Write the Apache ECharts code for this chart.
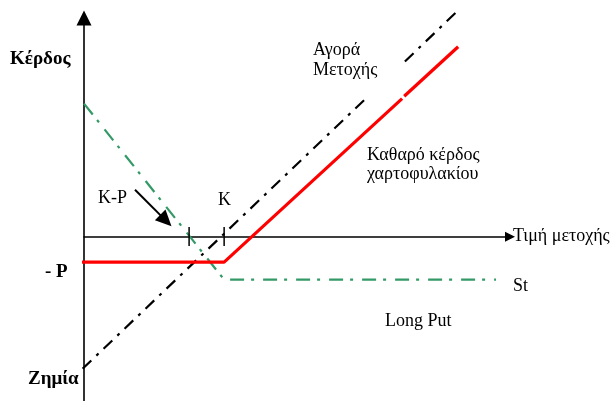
<!DOCTYPE html>
<html>
<head>
<meta charset="utf-8">
<style>
  html, body { margin: 0; padding: 0; background: #ffffff; }
  #chart { width: 614px; height: 401px; }
</style>
<script src="https://cdn.jsdelivr.net/npm/echarts@6/dist/echarts.min.js"></script>
</head>
<body>
<div id="chart"></div>
<script>
// Schematic payoff diagram (x = stock price, y = profit), values in chart units
const stockBuyLow  = [[-1, -94], [201, 98.5]];      // "Αγορά Μετοχής" (lower part)
const stockBuyHigh = [[229, 125], [266, 160.5]];    // "Αγορά Μετοχής" (upper part)
const longPut      = [[0, 95], [100, -30.5], [294, -30.5]];
const netLow       = [[-1.5, -18], [100, -18], [227, 98.5]];  // net portfolio profit
const netHigh      = [[228.5, 100.2], [267, 135.5]];
const tickValues   = [75, 100];          // K-P, K
const tickHalf     = [7, -6.5];          // tick extent above / below axis
const kpArrow      = [[36.4, 33.6], [58.4, 11.6]];

const serif = '"Liberation Serif", "DejaVu Serif", serif';
const green = '#339966';

function seg(data, color, width, type) {
  return {
    type: 'line', data: data, symbol: 'none', clip: false, silent: true,
    animation: false,
    lineStyle: { color: color, width: width, type: type, cap: 'butt' }
  };
}

const series = [
  seg(stockBuyLow, '#000', 2.2, [12, 7, 3, 7]),
  seg(stockBuyHigh, '#000', 2.2, [12, 7, 3, 7]),
  seg(longPut, green, 2.2, [14, 7, 3, 9]),
  seg(netLow, '#ff0000', 3.2, 'solid'),
  seg(netHigh, '#ff0000', 3.2, 'solid')
];
tickValues.forEach(function (v) {
  series.push(seg([[v, tickHalf[0]], [v, tickHalf[1]]], '#000', 1.5, 'solid'));
});
series.push({
  type: 'line', data: [], silent: true, animation: false,
  markLine: {
    silent: true, animation: false,
    symbol: ['none', 'triangle'], symbolSize: [15, 16],
    label: { show: false },
    lineStyle: { color: '#000', width: 2, type: 'solid' },
    data: [[{ coord: kpArrow[0] }, { coord: kpArrow[1] }]]
  }
});

function txt(s, x, y, bold) {
  return {
    type: 'text', left: x, top: y - 8, silent: true,
    style: {
      text: s, fill: '#000',
      font: (bold ? 'bold 19px ' : '18px ') + serif
    }
  };
}

const chart = echarts.init(document.getElementById('chart'), null, { renderer: 'canvas' });
chart.setOption({
  animation: false,
  backgroundColor: '#ffffff',
  grid: { left: 84, right: 104, top: 18, bottom: 0 },
  xAxis: {
    type: 'value', min: 0, max: 304,
    axisLine: { show: true, onZero: true, symbol: ['none', 'triangle'], symbolSize: [10, 10],
                lineStyle: { color: '#000', width: 1.6 } },
    axisTick: { show: false }, axisLabel: { show: false }, splitLine: { show: false }
  },
  yAxis: {
    type: 'value', min: -117, max: 156,
    axisLine: { show: true, onZero: false, symbol: ['none', 'triangle'], symbolSize: [15, 15],
                lineStyle: { color: '#000', width: 1.6 } },
    axisTick: { show: false }, axisLabel: { show: false }, splitLine: { show: false }
  },
  series: series,
  graphic: [
    txt('Κέρδος', 10, 58, true),
    txt('- P', 45, 271, true),
    txt('Ζημία', 28, 378, true),
    txt('Αγορά', 313, 49, false),
    txt('Μετοχής', 313, 69, false),
    txt('Καθαρό κέρδος', 367, 154, false),
    txt('χαρτοφυλακίου', 367, 173, false),
    txt('Τιμή μετοχής', 513, 235, false),
    txt('St', 513, 285, false),
    txt('Long Put', 385, 320, false),
    txt('K-P', 98, 197, false),
    txt('K', 218, 199, false)
  ]
});
</script>
</body>
</html>
